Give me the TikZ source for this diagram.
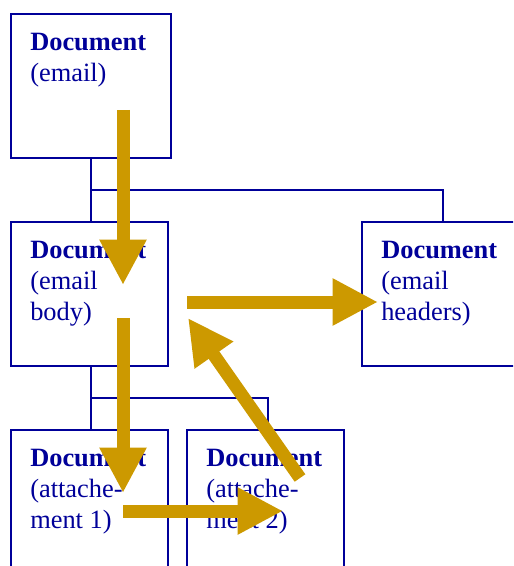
\documentclass[tikz,border=0pt]{standalone}
\usepackage{fontspec}
\setmainfont{Liberation Serif}
\usetikzlibrary{arrows.meta}
\definecolor{dblue}{RGB}{0,0,153}
\definecolor{gold}{RGB}{204,153,0}
\tikzset{
  docbox/.style={draw=dblue, line width=1.5pt, minimum width=117.75pt, minimum height=108pt, inner sep=0pt},
  doctext/.style={anchor=north west, inner sep=0pt, align=left, text=dblue, font=\fontsize{19.8}{23.6}\selectfont},
  tree/.style={draw=dblue, line width=1.5pt},
  bigarrow/.style={draw=gold, line width=9.75pt, -{Triangle[length=34pt, width=33pt, fill=gold]}}
}
\begin{document}
\begin{tikzpicture}[x=0.75pt, y=-0.75pt]
\useasboundingbox (0,0) rectangle (513,566);
\begin{scope}
\clip (0,0) rectangle (513,566);
% boxes
\node[docbox, minimum width=120pt] (b1) at (91,86) {};
\node[docbox] (b2) at (89.5,294) {};
\node[docbox, minimum width=150pt] (b3) at (462,294) {};
\node[docbox] (b4) at (89.5,502) {};
\node[docbox] (b5) at (265.5,502) {};
% texts
\node[doctext] (t1) at ([shift={(20,19.5)}]b1.north west) {\textbf{Document}\\(email)};
\node[doctext] (t2) at ([shift={(20,19.5)}]b2.north west) {\textbf{Document}\\(email\\body)};
\node[doctext] (t3) at ([shift={(20,19.5)}]b3.north west) {\textbf{Document}\\(email\\headers)};
\node[doctext] (t4) at ([shift={(20,19.5)}]b4.north west) {\textbf{Document}\\(attache-\\ment 1)};
\node[doctext] (t5) at ([shift={(20,19.5)}]b5.north west) {\textbf{Document}\\(attache-\\ment 2)};
% tree connectors
\coordinate (j1) at (91,190);
\coordinate (j2) at (91,398);
\coordinate (j3) at (443,190);
\draw[tree] (b1.south) -- (j1) -- (j3) -- (b3.north -| j3);
\draw[tree] (j1) -- (b2.north -| j1);
\draw[tree] (b2.south -| j2) -- (j2) -| ([xshift=1.5]b5.north);
\draw[tree] (j2) -- (b4.north -| j2);
% arrows
\coordinate (a1s) at (123,110);
\coordinate (a1e) at (123,285);
\coordinate (a2s) at (123,318);
\coordinate (a2e) at (123,493);
\coordinate (a3s) at (187,302);
\coordinate (a3e) at (378,302);
\coordinate (a4s) at (300,478);
\coordinate (a4e) at (188,318);
\coordinate (a5s) at (123,511);
\coordinate (a5e) at (283,511);
\draw[bigarrow] (a1s) -- (a1e);
\draw[bigarrow] (a2s) -- (a2e);
\draw[bigarrow] (a3s) -- (a3e);
\draw[bigarrow] (a4s) -- (a4e);
\draw[bigarrow] (a5s) -- (a5e);
\end{scope}
\end{tikzpicture}
\end{document}
